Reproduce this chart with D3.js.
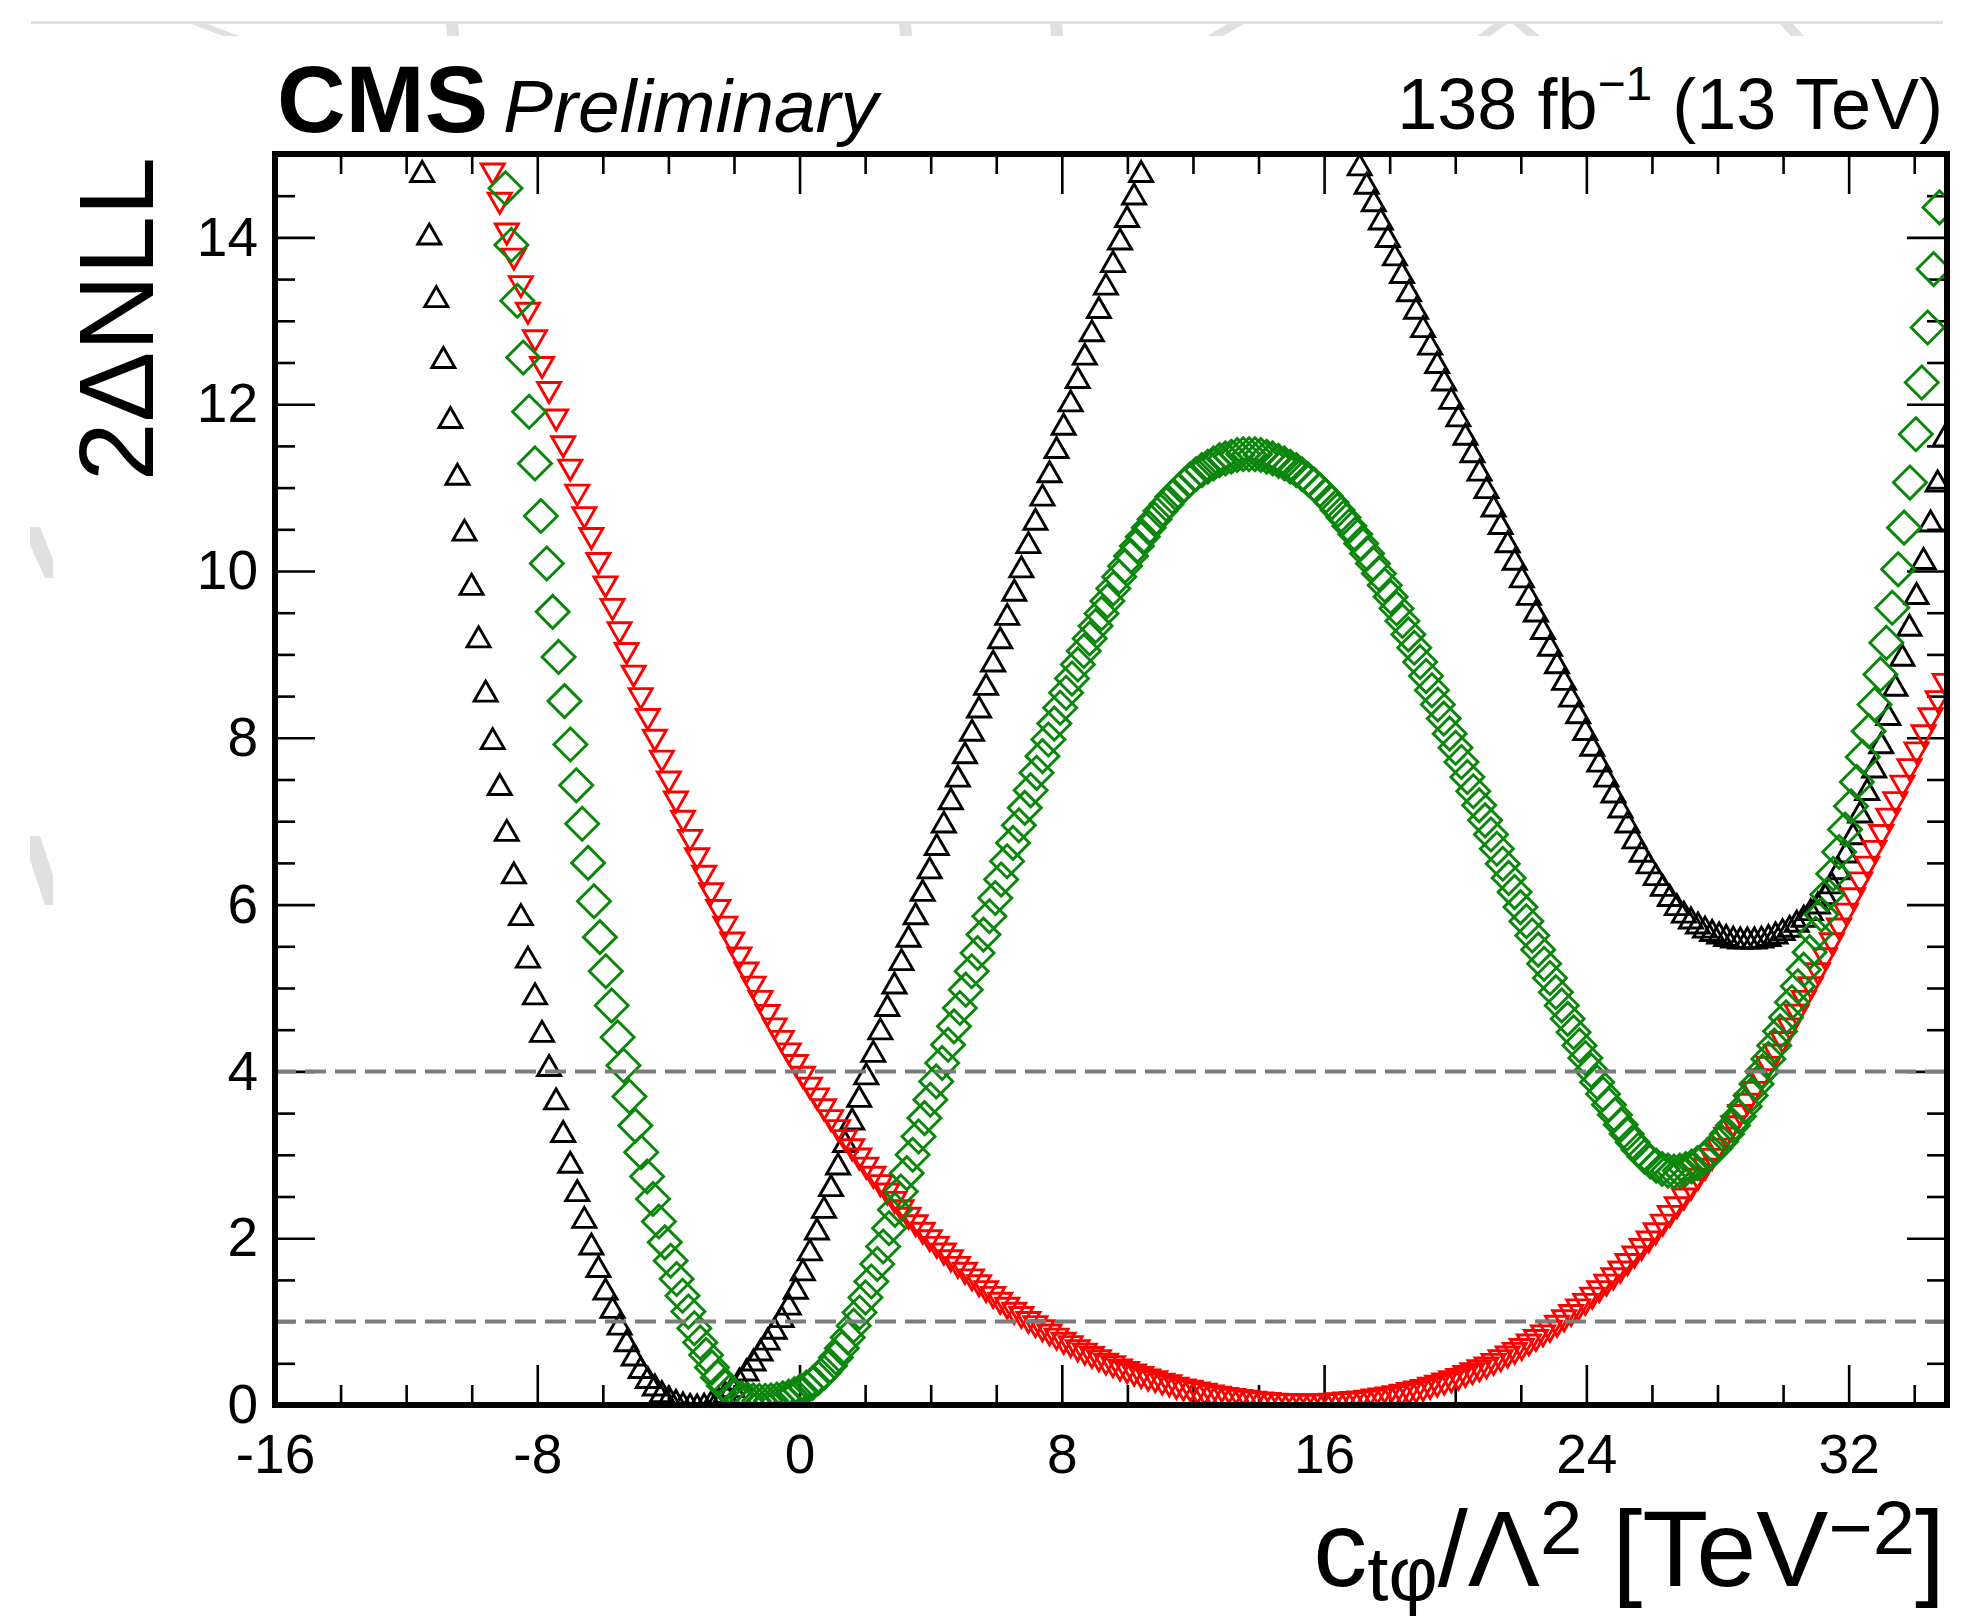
<!DOCTYPE html>
<html><head><meta charset="utf-8">
<script src="https://cdn.jsdelivr.net/npm/d3@7"></script>
<style>html,body{margin:0;padding:0;background:#fff}svg{display:block}</style>
</head><body>
<svg id="c" width="1971" height="1621"></svg>
<script>
// ---------------- data ----------------
const xMajorTicks = [-16, -8, 0, 8, 16, 24, 32];
const xMinorTicks = [-14, -12, -10, -6, -4, -2, 2, 4, 6, 10, 12, 14, 18, 20, 22, 26, 28, 30, 34];
const yMajorTicks = [0, 2, 4, 6, 8, 10, 12, 14];
const yMinorTicks = [0.5, 1, 1.5, 2.5, 3, 3.5, 4.5, 5, 5.5, 6.5, 7, 7.5, 8.5, 9, 9.5, 10.5, 11, 11.5, 12.5, 13, 13.5, 14.5];
const refLevels = [1, 4];

// scan points shared by the black (up triangles) and red (down triangles) scans
const scanX = [-11.51,-11.295,-11.08,-10.865,-10.65,-10.435,-10.22,-10.005,-9.79,-9.575,
-9.36,-9.145,-8.93,-8.715,-8.5,-8.285,-8.07,-7.855,-7.64,-7.425,
-7.21,-6.995,-6.78,-6.565,-6.35,-6.135,-5.92,-5.705,-5.49,-5.275,
-5.06,-4.845,-4.63,-4.415,-4.2,-3.985,-3.77,-3.555,-3.34,-3.125,
-2.91,-2.695,-2.48,-2.265,-2.05,-1.835,-1.62,-1.405,-1.19,-0.975,
-0.76,-0.545,-0.33,-0.115,0.1,0.315,0.53,0.745,0.96,1.175,
1.39,1.605,1.82,2.035,2.25,2.465,2.68,2.895,3.11,3.325,
3.54,3.755,3.97,4.185,4.4,4.615,4.83,5.045,5.26,5.475,
5.69,5.905,6.12,6.335,6.55,6.765,6.98,7.195,7.41,7.625,
7.84,8.055,8.27,8.485,8.7,8.915,9.13,9.345,9.56,9.775,
9.99,10.205,10.42,10.635,10.85,11.065,11.28,11.495,11.71,11.925,
12.14,12.355,12.57,12.785,13,13.215,13.43,13.645,13.86,14.075,
14.29,14.505,14.72,14.935,15.15,15.365,15.58,15.795,16.01,16.225,
16.44,16.655,16.87,17.085,17.3,17.515,17.73,17.945,18.16,18.375,
18.59,18.805,19.02,19.235,19.45,19.665,19.88,20.095,20.31,20.525,
20.74,20.955,21.17,21.385,21.6,21.815,22.03,22.245,22.46,22.675,
22.89,23.105,23.32,23.535,23.75,23.965,24.18,24.395,24.61,24.825,
25.04,25.255,25.47,25.685,25.9,26.115,26.33,26.545,26.76,26.975,
27.19,27.405,27.62,27.835,28.05,28.265,28.48,28.695,28.91,29.125,
29.34,29.555,29.77,29.985,30.2,30.415,30.63,30.845,31.06,31.275,
31.49,31.705,31.92,32.135,32.35,32.565,32.78,32.995,33.21,33.425,
33.64,33.855,34.07,34.285,34.5,34.715,34.93];

const blackY = [14.79,14.04,13.29,12.56,11.84,11.16,10.49,9.84,9.21,8.56,
7.99,7.44,6.89,6.38,5.88,5.37,4.93,4.48,4.07,3.67,
3.28,2.91,2.57,2.25,1.93,1.66,1.39,1.17,0.97,0.77,
0.6,0.45,0.33,0.24,0.16,0.1,0.055,0.025,0.008,0,
0.01,0.04,0.09,0.15,0.22,0.31,0.42,0.54,0.66,0.79,
0.92,1.06,1.21,1.4,1.62,1.86,2.11,2.37,2.63,2.89,
3.16,3.43,3.7,3.97,4.24,4.51,4.79,5.06,5.34,5.62,
5.89,6.17,6.44,6.72,6.99,7.27,7.54,7.82,8.09,8.37,
8.64,8.92,9.2,9.48,9.77,10.05,10.34,10.62,10.91,11.19,
11.48,11.76,12.04,12.32,12.6,12.88,13.16,13.44,13.71,13.98,
14.25,14.52,14.79,null,null,null,null,null,null,null,
null,null,null,null,null,null,null,null,null,null,
null,null,null,null,null,null,null,null,null,null,
null,null,null,14.87,14.65,14.44,14.22,14.01,13.79,13.58,
13.36,13.15,12.93,12.72,12.5,12.29,12.07,11.86,11.64,11.43,
11.21,11.0,10.78,10.57,10.35,10.14,9.93,9.72,9.52,9.31,
9.11,8.9,8.7,8.5,8.3,8.1,7.91,7.72,7.54,7.35,
7.17,6.99,6.8,6.64,6.5,6.36,6.23,6.11,6.0,5.91,
5.84,5.78,5.73,5.69,5.66,5.63,5.61,5.6,5.6,5.6,
5.61,5.63,5.66,5.7,5.74,5.8,5.86,5.94,6.02,6.13,
6.26,6.43,6.63,6.85,7.11,7.38,7.65,7.94,8.28,8.63,
8.99,9.35,9.73,10.15,10.6,11.08,11.62];

const redY = [null,null,null,null,null,null,null,null,null,null,
14.76,14.41,14.04,13.74,13.41,13.09,12.76,12.44,12.14,11.81,
11.49,11.21,10.91,10.64,10.39,10.09,9.81,9.54,9.26,9.01,
8.74,8.47,8.22,7.97,7.72,7.47,7.23,7.0,6.77,6.55,
6.34,6.13,5.93,5.73,5.54,5.36,5.18,5.01,4.84,4.67,
4.51,4.36,4.21,4.07,3.93,3.8,3.67,3.54,3.41,3.29,
3.17,3.06,2.95,2.84,2.73,2.63,2.53,2.43,2.33,2.24,
2.15,2.06,1.97,1.89,1.81,1.73,1.65,1.58,1.5,1.43,
1.36,1.29,1.22,1.16,1.1,1.05,0.99,0.94,0.89,0.84,
0.79,0.74,0.7,0.65,0.61,0.57,0.53,0.49,0.46,0.42,
0.39,0.36,0.33,0.3,0.28,0.25,0.23,0.2,0.18,0.165,
0.145,0.13,0.11,0.095,0.08,0.068,0.056,0.045,0.035,0.025,
0.018,0.011,0.006,0.003,0.001,0,0,0.002,0.005,0.011,
0.017,0.024,0.03,0.036,0.047,0.06,0.072,0.084,0.1,0.119,
0.137,0.155,0.175,0.2,0.226,0.252,0.278,0.307,0.342,0.376,
0.41,0.445,0.487,0.531,0.575,0.619,0.665,0.72,0.774,0.829,
0.884,0.944,1.01,1.074,1.14,1.206,1.282,1.36,1.437,1.514,
1.594,1.684,1.774,1.865,1.955,2.053,2.157,2.262,2.366,2.47,
2.587,2.707,2.826,2.945,3.068,3.2,3.337,3.472,3.606,3.749,
3.899,4.048,4.197,4.347,4.51,4.675,4.84,5.004,5.172,5.35,
5.53,5.708,5.886,6.071,6.26,6.449,6.638,6.828,7.025,7.223,
7.42,7.618,7.819,8.024,8.229,8.434,8.64];

// green (open diamonds) scan
const greenX = [-8.97,-8.79,-8.61,-8.43,-8.25,-8.07,-7.89,-7.71,-7.53,-7.35,
-7.17,-6.99,-6.81,-6.63,-6.45,-6.27,-6.09,-5.91,-5.73,-5.55,
-5.37,-5.19,-5.01,-4.83,-4.65,-4.47,-4.29,-4.11,-3.93,-3.75,
-3.57,-3.39,-3.21,-3.03,-2.85,-2.67,-2.49,-2.31,-2.13,-1.95,
-1.77,-1.59,-1.41,-1.23,-1.05,-0.87,-0.69,-0.51,-0.33,-0.15,
0.03,0.21,0.39,0.57,0.75,0.93,1.11,1.29,1.47,1.65,
1.83,2.01,2.19,2.37,2.55,2.73,2.91,3.09,3.27,3.45,
3.63,3.81,3.99,4.17,4.35,4.53,4.71,4.89,5.07,5.25,
5.43,5.61,5.79,5.97,6.15,6.33,6.51,6.69,6.87,7.05,
7.23,7.41,7.59,7.77,7.95,8.13,8.31,8.49,8.67,8.85,
9.03,9.21,9.39,9.57,9.75,9.93,10.11,10.29,10.47,10.65,
10.83,11.01,11.19,11.37,11.55,11.73,11.91,12.09,12.27,12.45,
12.63,12.81,12.99,13.17,13.35,13.53,13.71,13.89,14.07,14.25,
14.43,14.61,14.79,14.97,15.15,15.33,15.51,15.69,15.87,16.05,
16.23,16.41,16.59,16.77,16.95,17.13,17.31,17.49,17.67,17.85,
18.03,18.21,18.39,18.57,18.75,18.93,19.11,19.29,19.47,19.65,
19.83,20.01,20.19,20.37,20.55,20.73,20.91,21.09,21.27,21.45,
21.63,21.81,21.99,22.17,22.35,22.53,22.71,22.89,23.07,23.25,
23.43,23.61,23.79,23.97,24.15,24.33,24.51,24.69,24.87,25.05,
25.23,25.41,25.59,25.77,25.95,26.13,26.31,26.49,26.67,26.85,
27.03,27.21,27.39,27.57,27.75,27.93,28.11,28.29,28.47,28.65,
28.83,29.01,29.19,29.37,29.55,29.73,29.91,30.09,30.27,30.45,
30.63,30.81,30.99,31.17,31.35,31.53,31.71,31.89,32.07,32.25,
32.43,32.61,32.79,32.97,33.15,33.33,33.51,33.69,33.87,34.05,
34.23,34.41,34.59,34.77];

const greenY = [14.59,13.91,13.24,12.56,11.91,11.29,10.66,10.09,9.51,8.97,
8.44,7.92,7.43,6.97,6.5,6.04,5.61,5.2,4.79,4.41,
4.07,3.7,3.35,3.03,2.74,2.47,2.2,1.95,1.73,1.51,
1.31,1.12,0.92,0.75,0.6,0.45,0.33,0.23,0.16,0.11,
0.08,0.065,0.055,0.05,0.05,0.055,0.065,0.08,0.1,0.13,
0.17,0.21,0.26,0.32,0.39,0.47,0.57,0.68,0.81,0.95,
1.11,1.29,1.48,1.69,1.9,2.12,2.34,2.56,2.78,3.0,
3.22,3.44,3.66,3.88,4.1,4.32,4.54,4.76,4.98,5.2,
5.42,5.64,5.86,6.08,6.3,6.52,6.74,6.95,7.16,7.37,
7.58,7.78,7.98,8.17,8.36,8.54,8.71,8.88,9.04,9.19,
9.34,9.49,9.64,9.79,9.93,10.06,10.18,10.3,10.41,10.52,
10.62,10.72,10.8,10.89,10.96,11.03,11.1,11.16,11.21,11.25,
11.29,11.33,11.35,11.37,11.39,11.4,11.4,11.4,11.39,11.37,
11.35,11.32,11.29,11.25,11.21,11.16,11.1,11.04,10.97,10.9,
10.82,10.73,10.64,10.54,10.44,10.33,10.21,10.09,9.97,9.83,
9.69,9.55,9.4,9.24,9.08,8.91,8.74,8.57,8.4,8.23,
8.05,7.88,7.71,7.53,7.36,7.19,7.01,6.84,6.67,6.49,
6.32,6.15,5.97,5.8,5.63,5.46,5.29,5.12,4.95,4.79,
4.63,4.47,4.31,4.16,4.01,3.87,3.73,3.6,3.48,3.36,
3.25,3.15,3.06,2.98,2.92,2.87,2.83,2.81,2.8,2.81,
2.83,2.86,2.9,2.95,3.01,3.08,3.16,3.25,3.35,3.46,
3.58,3.71,3.85,4.0,4.15,4.31,4.48,4.65,4.83,5.02,
5.22,5.43,5.65,5.88,6.12,6.37,6.63,6.9,7.18,7.47,
7.77,8.08,8.4,8.76,9.14,9.56,10.02,10.52,11.06,11.64,
12.26,12.92,13.62,14.36];

// ---------------- drawing ----------------
const W = 1971, H = 1621;
const L = 275, R = 1947, T = 154, B = 1405;
const FONT = "'Liberation Sans', Arial, Helvetica, sans-serif";

const x = d3.scaleLinear().domain([-16, 35]).range([L, R]);
const y = d3.scaleLinear().domain([0, 15]).range([B, T]);

const svg = d3.select('#c');
svg.append('rect').attr('width', W).attr('height', H).attr('fill', '#fff');

// faint watermark remnants at the page edges
const wm = svg.append('g').attr('fill', '#e0e0e0');
wm.append('rect').attr('x', 31).attr('y', 21).attr('width', 1912).attr('height', 3);
[
  [[189,23],[205,23],[239,36],[223,36]],
  [[446,23],[458,23],[459,36],[447,36]],
  [[899,23],[911,23],[912,36],[900,36]],
  [[1050,23],[1062,23],[1063,36],[1051,36]],
  [[1229,23],[1245,23],[1223,36],[1207,36]],
  [[1495,23],[1508,23],[1490,36],[1477,36]],
  [[1512,23],[1525,23],[1540,36],[1527,36]],
  [[1779,23],[1792,23],[1804,36],[1791,36]],
  [[30,527],[40,527],[53,560],[53,578],[45,578],[30,545]],
  [[30,836],[40,836],[53,875],[53,905],[45,905],[30,860]]
].forEach(p => wm.append('polygon').attr('points', p.map(q => q.join(',')).join(' ')));

// axes
function styleAxis(g) {
  g.select('.domain').remove();
  g.selectAll('.tick line').attr('stroke', '#000').attr('stroke-width', 2.6);
  g.selectAll('.tick text').attr('fill', '#000').attr('font-family', FONT).attr('font-size', 55);
}
const fmt = d => String(d);
// bottom
svg.append('g').attr('transform', `translate(0,${B})`)
  .call(d3.axisBottom(x).tickValues(xMajorTicks).tickSizeInner(-40).tickSizeOuter(0).tickPadding(29).tickFormat(fmt)).call(styleAxis);
svg.append('g').attr('transform', `translate(0,${B})`)
  .call(d3.axisBottom(x).tickValues(xMinorTicks).tickSizeInner(-20).tickSizeOuter(0).tickFormat('')).call(styleAxis);
// top
svg.append('g').attr('transform', `translate(0,${T})`)
  .call(d3.axisTop(x).tickValues(xMajorTicks).tickSizeInner(-40).tickSizeOuter(0).tickFormat('')).call(styleAxis);
svg.append('g').attr('transform', `translate(0,${T})`)
  .call(d3.axisTop(x).tickValues(xMinorTicks).tickSizeInner(-20).tickSizeOuter(0).tickFormat('')).call(styleAxis);
// left
svg.append('g').attr('transform', `translate(${L},0)`)
  .call(d3.axisLeft(y).tickValues(yMajorTicks).tickSizeInner(-40).tickSizeOuter(0).tickPadding(17).tickFormat(fmt)).call(styleAxis);
svg.append('g').attr('transform', `translate(${L},0)`)
  .call(d3.axisLeft(y).tickValues(yMinorTicks).tickSizeInner(-20).tickSizeOuter(0).tickFormat('')).call(styleAxis);
// right
svg.append('g').attr('transform', `translate(${R},0)`)
  .call(d3.axisRight(y).tickValues(yMajorTicks).tickSizeInner(-40).tickSizeOuter(0).tickFormat('')).call(styleAxis);
svg.append('g').attr('transform', `translate(${R},0)`)
  .call(d3.axisRight(y).tickValues(yMinorTicks).tickSizeInner(-20).tickSizeOuter(0).tickFormat('')).call(styleAxis);

// markers (clipped to the frame)
svg.append('clipPath').attr('id', 'fr').append('rect')
  .attr('x', L).attr('y', T).attr('width', R - L).attr('height', B - T);
const plot = svg.append('g').attr('clip-path', 'url(#fr)');

function pts(xs, ys) {
  return xs.map((v, i) => ({ x: v, y: ys[i] })).filter(d => d.y !== null && d.y !== undefined && d.y <= 15);
}
const TW = 23, TH = 20, DH = 16.5;
const upTri = d => { const px = x(d.x), py = y(d.y);
  return `M${px},${py - TH / 2}L${px + TW / 2},${py + TH / 2}L${px - TW / 2},${py + TH / 2}Z`; };
const downTri = d => { const px = x(d.x), py = y(d.y);
  return `M${px},${py + TH / 2}L${px + TW / 2},${py - TH / 2}L${px - TW / 2},${py - TH / 2}Z`; };
const diamond = d => { const px = x(d.x), py = y(d.y);
  return `M${px},${py - DH}L${px + DH},${py}L${px},${py + DH}L${px - DH},${py}Z`; };

function series(data, pathFn, color) {
  plot.append('g').selectAll('path').data(data).join('path')
    .attr('d', pathFn).attr('fill', 'none').attr('stroke', color)
    .attr('stroke-width', 2.9).attr('stroke-linejoin', 'miter');
}
series(pts(scanX, blackY), upTri, '#000000');
series(pts(scanX, redY), downTri, '#ff0000');
series(pts(greenX, greenY), diamond, '#0a870a');

// reference lines
svg.append('g').selectAll('line').data(refLevels).join('line')
  .attr('x1', L).attr('x2', R).attr('y1', d => y(d)).attr('y2', d => y(d))
  .attr('stroke', '#7c7c7c').attr('stroke-width', 4).attr('stroke-dasharray', '21,9');

// frame
svg.append('rect').attr('x', L).attr('y', T).attr('width', R - L).attr('height', B - T)
  .attr('fill', 'none').attr('stroke', '#000').attr('stroke-width', 6);

// header texts
svg.append('text').attr('x', 277).attr('y', 132).attr('font-family', FONT)
  .attr('font-weight', 'bold').attr('font-size', 95).attr('fill', '#000').text('CMS');
svg.append('text').attr('x', 503).attr('y', 132).attr('font-family', FONT)
  .attr('font-style', 'italic').attr('font-size', 75).attr('fill', '#000').text('Preliminary');
const lumi = svg.append('text').attr('x', 1943).attr('y', 129).attr('text-anchor', 'end')
  .attr('font-family', FONT).attr('font-size', 72).attr('fill', '#000');
lumi.append('tspan').text('138 fb');
lumi.append('tspan').attr('font-size', 48).attr('dy', -29).text('\u22121');
lumi.append('tspan').attr('dy', 29).text(' (13 TeV)');

// y title
svg.append('text').attr('transform', `translate(153,157) rotate(-90)`).attr('text-anchor', 'end')
  .attr('font-family', FONT).attr('font-size', 106).attr('fill', '#000').text('2\u0394NLL');

// x title
const xt = svg.append('text').attr('x', 1945).attr('y', 1586).attr('text-anchor', 'end')
  .attr('font-family', FONT).attr('font-size', 108).attr('fill', '#000');
xt.append('tspan').text('c');
xt.append('tspan').attr('font-size', 76).attr('dy', 14).text('t\u03c6');
xt.append('tspan').attr('dy', -14).text('/\u039b');
xt.append('tspan').attr('font-size', 76).attr('dy', -32).text('2');
xt.append('tspan').attr('dy', 32).text(' [TeV');
xt.append('tspan').attr('font-size', 76).attr('dy', -32).text('\u22122');
xt.append('tspan').attr('dy', 32).text(']');

// sanity check
[[scanX, blackY], [scanX, redY], [greenX, greenY]].forEach(([a, b], k) => {
  if (a.length !== b.length) console.error('length mismatch in series ' + k + ': ' + a.length + ' vs ' + b.length);
});
</script>
</body></html>
